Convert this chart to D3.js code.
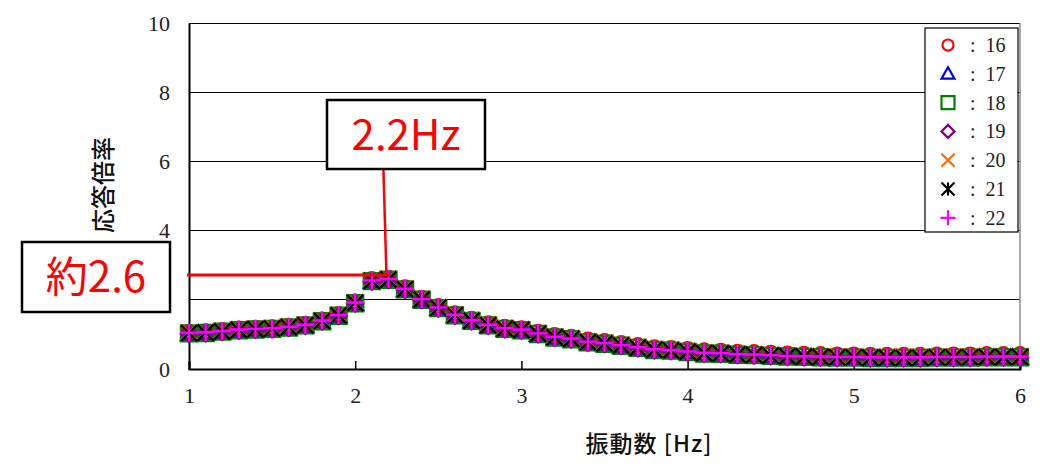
<!DOCTYPE html>
<html>
<head>
<meta charset="utf-8">
<script src="https://cdn.jsdelivr.net/npm/d3@7"></script>
<style>
  body { margin: 0; background: #fff; }
  svg { display: block; }
  .num { font-family: "Liberation Serif", "Times New Roman", serif; }
</style>
</head>
<body>
<div id="chart"></div>
<script>
// frequency axis [Hz], 1.0 .. 6.0 step 0.1
const freqs = [1.0,1.1,1.2,1.3,1.4,1.5,1.6,1.7,1.8,1.9,2.0,2.1,2.2,2.3,2.4,2.5,2.6,2.7,2.8,2.9,
  3.0,3.1,3.2,3.3,3.4,3.5,3.6,3.7,3.8,3.9,4.0,4.1,4.2,4.3,4.4,4.5,4.6,4.7,4.8,4.9,
  5.0,5.1,5.2,5.3,5.4,5.5,5.6,5.7,5.8,5.9,6.0];

// response ratio per series (legend 16..22)
const s16 = [1.08,1.09,1.13,1.17,1.19,1.21,1.25,1.31,1.43,1.59,1.95,2.60,2.64,2.36,2.06,1.82,1.61,1.45,1.32,1.22,
  1.18,1.08,0.98,0.93,0.85,0.81,0.75,0.69,0.63,0.61,0.58,0.54,0.53,0.50,0.49,0.47,0.45,0.44,0.43,0.42,
  0.42,0.41,0.41,0.41,0.41,0.42,0.42,0.42,0.43,0.43,0.43];
const s17 = [1.01,1.02,1.06,1.10,1.12,1.14,1.18,1.24,1.36,1.52,1.88,2.52,2.56,2.28,1.98,1.74,1.53,1.37,1.24,1.14,
  1.10,0.99,0.89,0.84,0.75,0.71,0.65,0.59,0.53,0.51,0.47,0.43,0.42,0.39,0.38,0.36,0.34,0.33,0.32,0.31,
  0.31,0.30,0.30,0.30,0.30,0.31,0.31,0.31,0.32,0.32,0.32];
const s18 = [1.03,1.04,1.08,1.12,1.14,1.16,1.20,1.26,1.38,1.54,1.90,2.54,2.58,2.30,2.00,1.76,1.55,1.39,1.26,1.16,
  1.12,1.01,0.91,0.86,0.77,0.73,0.67,0.61,0.55,0.53,0.49,0.45,0.44,0.41,0.40,0.38,0.36,0.35,0.34,0.33,
  0.33,0.32,0.32,0.32,0.32,0.33,0.33,0.33,0.34,0.34,0.34];
const s19 = [1.02,1.03,1.07,1.11,1.13,1.15,1.19,1.25,1.37,1.53,1.89,2.53,2.57,2.29,1.99,1.75,1.54,1.38,1.25,1.15,
  1.11,1.00,0.90,0.85,0.76,0.72,0.66,0.60,0.54,0.52,0.48,0.44,0.43,0.40,0.39,0.37,0.35,0.34,0.33,0.32,
  0.32,0.31,0.31,0.31,0.31,0.32,0.32,0.32,0.33,0.33,0.33];
const s20 = [1.06,1.07,1.11,1.15,1.17,1.19,1.23,1.29,1.41,1.57,1.93,2.57,2.61,2.33,2.03,1.79,1.58,1.42,1.29,1.19,
  1.15,1.04,0.94,0.89,0.80,0.76,0.70,0.64,0.58,0.56,0.52,0.48,0.47,0.44,0.43,0.41,0.39,0.38,0.37,0.36,
  0.36,0.35,0.35,0.35,0.35,0.36,0.36,0.36,0.37,0.37,0.37];
const s21 = [1.04,1.05,1.09,1.13,1.15,1.17,1.21,1.27,1.39,1.55,1.91,2.55,2.59,2.31,2.01,1.77,1.56,1.40,1.27,1.17,
  1.13,1.02,0.92,0.87,0.78,0.74,0.68,0.62,0.56,0.54,0.50,0.46,0.45,0.42,0.41,0.39,0.37,0.36,0.35,0.34,
  0.34,0.33,0.33,0.33,0.33,0.34,0.34,0.34,0.35,0.35,0.35];
const s22 = [1.05,1.06,1.10,1.14,1.16,1.18,1.22,1.28,1.40,1.56,1.92,2.56,2.60,2.32,2.02,1.78,1.57,1.41,1.28,1.18,
  1.14,1.03,0.93,0.88,0.79,0.75,0.69,0.63,0.57,0.55,0.51,0.47,0.46,0.43,0.42,0.40,0.38,0.37,0.36,0.35,
  0.35,0.34,0.34,0.34,0.34,0.35,0.35,0.35,0.36,0.36,0.36];

const seriesNames = ["16","17","18","19","20","21","22"];
const seriesValues = [s16, s17, s18, s19, s20, s21, s22];
const seriesColors = ["#ff0000","#0000ff","#008000","#800080","#ff6a00","#000000","#ff00ff"];
const seriesShapes = ["circle","triangle","square","diamond","x","star","plus"];

const xTicks = [1, 2, 3, 4, 5, 6];
const yTicks = [0, 2, 4, 6, 8, 10];

// annotation values
const peakFreq = 2.2;
const peakLevel = 2.72;
const peakFreqLabel = "2.2Hz";
const peakLevelLabel = "約2.6";

const W = 1044, H = 470;
const margin = {left: 189, right: 24, top: 23, bottom: 101};

const svg = d3.select("#chart").append("svg")
  .attr("width", W).attr("height", H);

const x = d3.scaleLinear().domain([1, 6]).range([margin.left, W - margin.right]);
const y = d3.scaleLinear().domain([0, 10]).range([H - margin.bottom, margin.top]);

const sans = "'Noto Sans CJK JP', 'Noto Sans', sans-serif";

// grid lines
svg.append("g")
  .selectAll("line")
  .data(yTicks.filter(d => d > 0))
  .join("line")
    .attr("x1", x(1)).attr("x2", x(6))
    .attr("y1", d => y(d)).attr("y2", d => y(d))
    .attr("stroke", "#000").attr("stroke-width", 1)
    .attr("shape-rendering", "crispEdges");

// right border
svg.append("line")
  .attr("x1", x(6)).attr("x2", x(6))
  .attr("y1", y(10)).attr("y2", y(0))
  .attr("stroke", "#8c8c8c").attr("stroke-width", 1.5);

// axes
const xAxis = svg.append("g")
  .attr("transform", `translate(0,${y(0)})`)
  .call(d3.axisBottom(x).tickValues(xTicks).tickSize(-8).tickPadding(18).tickFormat(d3.format("d")));
xAxis.attr("font-family", null);
xAxis.select(".domain").attr("stroke-width", 2);
xAxis.selectAll(".tick line").attr("stroke-width", 1.5);
xAxis.selectAll("text").attr("class", "num").attr("font-size", 22).attr("fill", "#222");

const yAxis = svg.append("g")
  .attr("transform", `translate(${x(1)},0)`)
  .call(d3.axisLeft(y).tickValues(yTicks).tickSize(0).tickPadding(19).tickFormat(d3.format("d")));
yAxis.attr("font-family", null);
yAxis.select(".domain").attr("stroke-width", 2);
yAxis.selectAll("text").attr("class", "num").attr("font-size", 22).attr("fill", "#222");

// marker shapes
function shapePath(shape, s) {
  const h = s / 2;
  switch (shape) {
    case "circle": return d3.symbol(d3.symbolCircle, Math.PI * (h * 0.85) ** 2)();
    case "triangle": return `M0,${-h}L${h},${h * 0.75}L${-h},${h * 0.75}Z`;
    case "square": return `M${-h},${-h}H${h}V${h}H${-h}Z`;
    case "diamond": return `M0,${-h}L${h},0L0,${h}L${-h},0Z`;
    case "x": return `M${-h},${-h}L${h},${h}M${h},${-h}L${-h},${h}`;
    case "star": return `M${-h},${-h}L${h},${h}M${h},${-h}L${-h},${h}M0,${-h}V${h}`;
    case "plus": return `M${-h - 1},0H${h + 1}M0,${-h - 1}V${h + 1}`;
  }
}

// data markers
seriesValues.forEach((vals, i) => {
  svg.append("g")
    .selectAll("path")
    .data(freqs.map((f, j) => ({f: f, v: vals[j]})))
    .join("path")
      .attr("transform", d => `translate(${x(d.f)},${y(d.v)})`)
      .attr("d", shapePath(seriesShapes[i], 16))
      .attr("fill", "none")
      .attr("stroke", seriesColors[i])
      .attr("stroke-width", 2.4);
});

// legend
const legend = svg.append("g").attr("transform", "translate(925,28)");
legend.append("rect")
  .attr("width", 93).attr("height", 204)
  .attr("fill", "#fff").attr("stroke", "#000").attr("stroke-width", 1.2);
const item = legend.selectAll("g.item")
  .data(seriesNames)
  .join("g")
    .attr("class", "item")
    .attr("transform", (d, i) => `translate(23,${17 + i * 28.8})`);
item.append("path")
  .attr("d", (d, i) => shapePath(seriesShapes[i], 13))
  .attr("fill", "none")
  .attr("stroke", (d, i) => seriesColors[i])
  .attr("stroke-width", 2.2);
item.append("text")
  .attr("class", "num")
  .attr("x", 22).attr("y", 7)
  .attr("font-size", 20).attr("fill", "#222")
  .attr("xml:space", "preserve")
  .text(d => ":  " + d);

// axis titles
svg.append("text")
  .attr("transform", `translate(112,185) rotate(-90)`)
  .attr("text-anchor", "middle")
  .attr("font-family", sans).attr("font-size", 24).attr("font-weight", 500)
  .attr("fill", "#111")
  .text("応答倍率");

svg.append("text")
  .attr("x", 649).attr("y", 452)
  .attr("text-anchor", "middle")
  .attr("font-family", sans).attr("font-size", 23).attr("font-weight", 500)
  .attr("fill", "#111")
  .attr("letter-spacing", 1)
  .text("振動数 [Hz]");

// annotation lines
svg.append("line")
  .attr("x1", x(1) - 2).attr("x2", x(peakFreq) + 1)
  .attr("y1", y(peakLevel)).attr("y2", y(peakLevel))
  .attr("stroke", "#ff0000").attr("stroke-width", 3);
svg.append("line")
  .attr("x1", x(peakFreq) - 5).attr("x2", x(peakFreq) - 2)
  .attr("y1", 170).attr("y2", y(peakLevel))
  .attr("stroke", "#ff0000").attr("stroke-width", 2.5);

// annotation boxes
function labelBox(x0, y0, w, h, label) {
  svg.append("rect")
    .attr("x", x0).attr("y", y0).attr("width", w).attr("height", h)
    .attr("fill", "#fff").attr("stroke", "#000").attr("stroke-width", 2.5);
  svg.append("text")
    .attr("x", x0 + w / 2).attr("y", y0 + h / 2 + 15)
    .attr("text-anchor", "middle")
    .attr("font-family", sans).attr("font-size", 42).attr("fill", "#ff0000")
    .text(label);
}
labelBox(327, 100, 158, 69, peakFreqLabel);
labelBox(22, 242, 148, 70, peakLevelLabel);
</script>
</body>
</html>
